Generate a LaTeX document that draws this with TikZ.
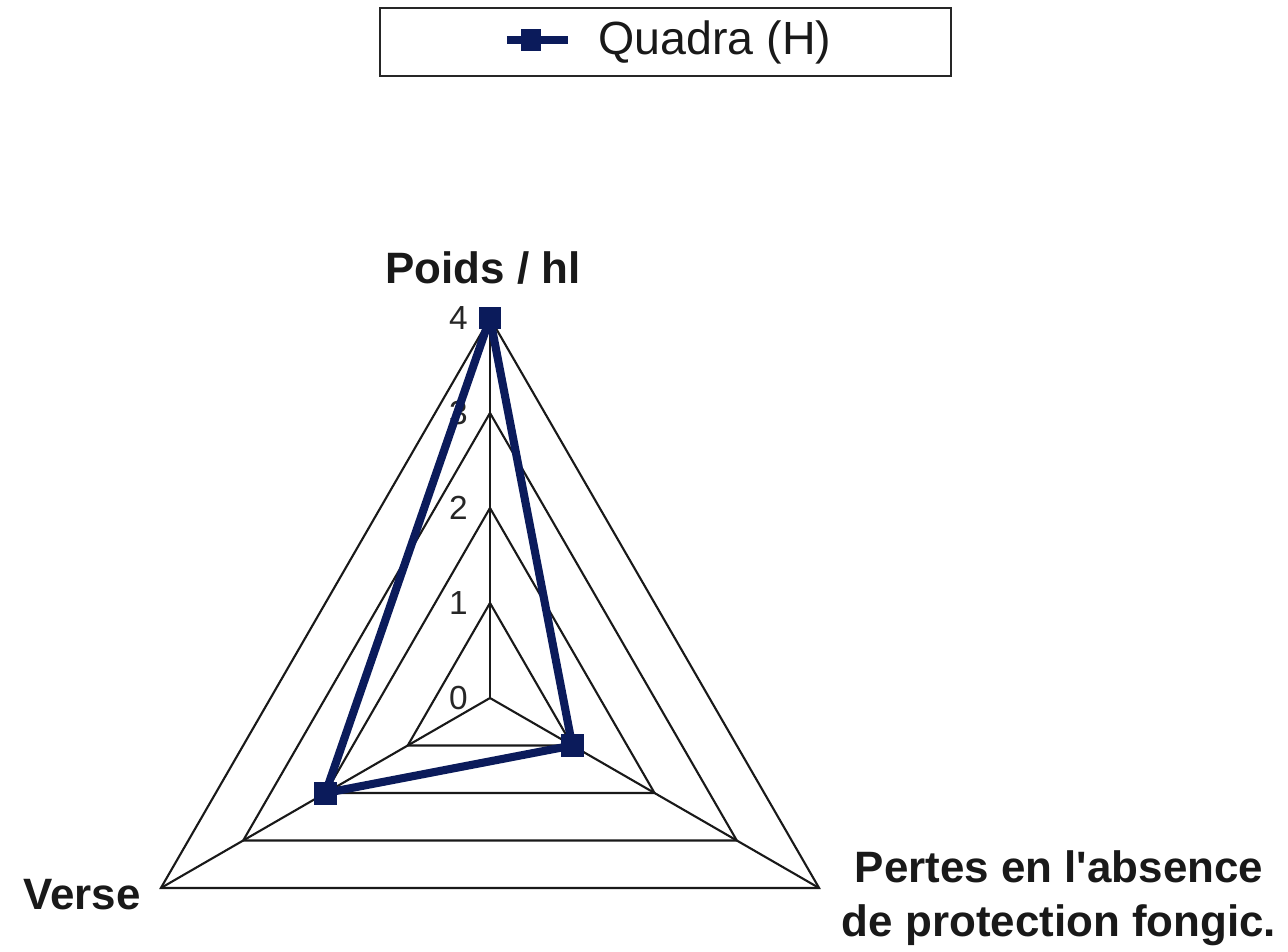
\documentclass[tikz,border=0pt]{standalone}
\usepackage{fontspec}
\setmainfont{Liberation Sans}
\definecolor{quadra}{HTML}{0B1B5B}
\tikzset{
  grid/.style={line width=1.2pt, draw=black!90},
  series/.style={line width=4.6pt, draw=quadra, line join=round},
  sqmark/.style={fill=quadra, minimum size=0.46cm, inner sep=0pt},
  axislabel/.style={font=\fontsize{25}{31}\selectfont\bfseries, text=black!90, align=center},
  ticklabel/.style={font=\fontsize{19}{23}\selectfont, text=black!85, anchor=east, inner sep=0pt}
}
\begin{document}
\begin{tikzpicture}[x=0.02cm, y=0.02cm]
\useasboundingbox (-490,-253) rectangle (798,698);

% legend
\draw[line width=1.2pt, black!85] (-110,622) rectangle (461,690);
\coordinate (legA) at (17,658);
\coordinate (legB) at (78,658);
\draw[line width=5pt, quadra] (legA) -- (legB);
\node[sqmark, minimum width=0.42cm, minimum height=0.44cm] (legmark) at (41,658) {};
\node[anchor=west, font=\fontsize{26.5}{32}\selectfont, text=black!90, inner sep=0pt] (legtext) at (108,656) {Quadra (H)};

% web
\foreach \k in {1,...,4}
  \draw[grid] (90:95*\k) -- (-30:95*\k) -- (210:95*\k) -- cycle;
\coordinate (c) at (0,0);
\coordinate (top) at (90:380);
\coordinate (right) at (-30:380);
\coordinate (left) at (210:380);
\draw[grid] (c) -- (top);
\draw[grid] (c) -- (right);
\draw[grid] (c) -- (left);
\foreach \k in {0,...,4}
  \node[ticklabel] (t\k) at (-22,95*\k) {\k};

% data
\coordinate (poids) at (90:380);
\coordinate (pertes) at (-30:95);
\coordinate (verse) at (210:190);
\draw[series] (poids) -- (pertes) -- (verse) -- cycle;
\node[sqmark] (mpoids) at (poids) {};
\node[sqmark] (mpertes) at (pertes) {};
\node[sqmark] (mverse) at (verse) {};

\node[axislabel] (lpoids) at (-7,430) {Poids / hl};
\node[axislabel] (lverse) at (-408,-197) {Verse};
\node[axislabel] (lpertes) at (569,-200) {Pertes en l\textquotesingle absence\\de protection fongic.};
\end{tikzpicture}
\end{document}
